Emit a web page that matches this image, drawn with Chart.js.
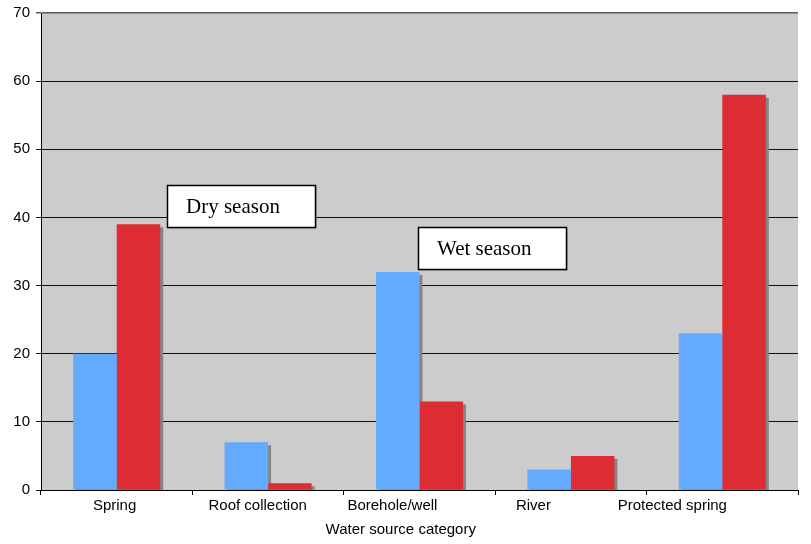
<!DOCTYPE html>
<html>
<head>
<meta charset="utf-8">
<script src="https://cdn.jsdelivr.net/npm/chart.js@4/dist/chart.umd.min.js"></script>
<style>
  html, body { margin: 0; padding: 0; background: #ffffff; }
  #wrap { width: 811px; height: 544px; }
</style>
</head>
<body>
<div id="wrap"><canvas id="c" width="811" height="544"></canvas></div>
<script>
// Water source use by season (percent of households)
const categories = ['Spring', 'Roof collection', 'Borehole/well', 'River', 'Protected spring'];
const wetSeason = [20, 7, 32, 3, 23];
const drySeason = [39, 1, 13, 5, 58];
const yTicks = [0, 10, 20, 30, 40, 50, 60, 70];
const axisTitle = 'Water source category';

// trailing no-break spaces nudge each centred label a little to the left
const labelNudge = [1, 5, 13, 18, 24];
const tickLabels = categories.map((c, i) => c + '\u00a0'.repeat(labelNudge[i]));

const plotBackground = {
  id: 'plotBackground',
  beforeDraw(chart) {
    const { ctx, chartArea: a } = chart;
    ctx.save();
    ctx.fillStyle = '#cccccc';
    ctx.fillRect(a.left, a.top, a.right - a.left, a.bottom - a.top);
    ctx.restore();
  }
};

// grey drop shadow behind every bar
const barShadow = {
  id: 'barShadow',
  beforeDatasetsDraw(chart) {
    const { ctx, chartArea: a } = chart;
    ctx.save();
    ctx.beginPath();
    ctx.rect(a.left, a.top, a.right - a.left, a.bottom - a.top);
    ctx.clip();
    ctx.fillStyle = '#858585';
    chart.data.datasets.forEach((ds, di) => {
      chart.getDatasetMeta(di).data.forEach(bar => {
        const p = bar.getProps(['x', 'y', 'width', 'base'], true);
        const left = p.x - p.width / 2 + 3;
        ctx.fillRect(left, p.y + 3, p.width, p.base - p.y);
      });
    });
    ctx.restore();
  }
};

// boxed legend notes placed in value space
const noteBoxes = {
  id: 'noteBoxes',
  afterDatasetsDraw(chart, args, opts) {
    const { ctx, scales: { x, y } } = chart;
    ctx.save();
    opts.items.forEach(n => {
      const left = Math.round(x.getPixelForValue(n.x)) + 0.5;
      const top = Math.round(y.getPixelForValue(n.y)) + 0.5;
      const w = 148, h = 42;
      ctx.fillStyle = '#8a8a8a';
      ctx.fillRect(left + 1, top + 1, w, h);
      ctx.fillStyle = '#ffffff';
      ctx.fillRect(left, top, w, h);
      ctx.strokeStyle = '#000000';
      ctx.lineWidth = 1.5;
      ctx.strokeRect(left, top, w, h);
      ctx.fillStyle = '#000000';
      ctx.font = '21px "Liberation Serif", "Times New Roman", serif';
      ctx.textBaseline = 'middle';
      ctx.textAlign = 'left';
      ctx.fillText(n.text, left + 18.5, top + h / 2 + 1);
    });
    ctx.restore();
  }
};

const tickFont = { family: '"Liberation Sans", Arial, sans-serif', size: 15 };

new Chart(document.getElementById('c'), {
  type: 'bar',
  data: {
    labels: tickLabels,
    datasets: [
      { label: 'Wet season', data: wetSeason, backgroundColor: '#64aaff', borderWidth: 0 },
      { label: 'Dry season', data: drySeason, backgroundColor: '#dd2c33', borderWidth: 0 }
    ]
  },
  options: {
    responsive: false,
    animation: false,
    devicePixelRatio: 1,
    layout: { padding: { top: 13, right: 13, left: 0, bottom: 0 } },
    datasets: { bar: { categoryPercentage: 0.575, barPercentage: 1.0 } },
    plugins: {
      legend: { display: false },
      tooltip: { enabled: false },
      noteBoxes: {
        items: [
          { text: 'Dry season', x: 0.333, y: 44.75 },
          { text: 'Wet season', x: 1.99, y: 38.6 }
        ]
      }
    },
    scales: {
      x: {
        offset: true,
        grid: {
          offset: true,
          drawOnChartArea: false,
          drawTicks: true,
          tickLength: 5,
          color: '#000000'
        },
        border: { display: true, color: '#000000', width: 1 },
        ticks: {
          font: tickFont,
          color: '#000000',
          padding: 2,
          maxRotation: 0,
          autoSkip: false
        },
        title: {
          display: true,
          text: axisTitle + '\u00a0'.repeat(9),
          font: tickFont,
          color: '#000000',
          padding: { top: 0, bottom: 5 }
        },
        afterFit(scale) {
          scale.height = 54;
          scale.paddingLeft = 0;
          scale.paddingRight = 0;
        }
      },
      y: {
        min: 0,
        max: 70,
        afterBuildTicks(scale) { scale.ticks = yTicks.map(v => ({ value: v })); },
        grid: {
          color: ctx => (ctx.tick && ctx.tick.value === 70 ? '#5a5a5a' : '#111111'),
          lineWidth: ctx => (ctx.tick && ctx.tick.value === 70 ? 1.5 : 1),
          tickLength: 5,
          drawTicks: true
        },
        border: { display: true, color: '#000000', width: 1 },
        ticks: {
          font: tickFont,
          color: '#000000',
          padding: 6
        },
        afterFit(scale) {
          scale.width = 41;
          scale.paddingTop = 0;
          scale.paddingBottom = 0;
        }
      }
    }
  },
  plugins: [plotBackground, barShadow, noteBoxes]
});
</script>
</body>
</html>
